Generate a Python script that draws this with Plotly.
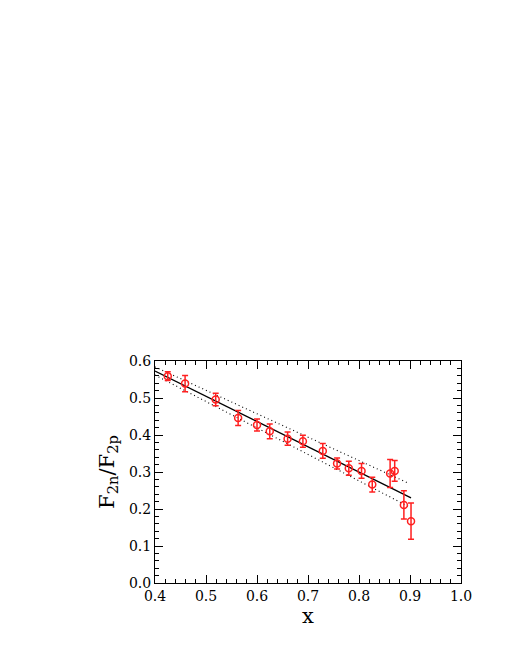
import plotly.graph_objects as go

# datos
x_datos = [0.425, 0.459, 0.519, 0.563, 0.600, 0.625, 0.660, 0.690, 0.729, 0.757,
           0.780, 0.805, 0.826, 0.861, 0.870, 0.888, 0.902]
y_datos = [0.559, 0.539, 0.496, 0.446, 0.427, 0.410, 0.390, 0.383, 0.357, 0.323,
           0.310, 0.303, 0.266, 0.296, 0.303, 0.211, 0.167]
err_datos = [0.012, 0.022, 0.017, 0.020, 0.016, 0.020, 0.018, 0.016, 0.020, 0.015,
             0.019, 0.020, 0.020, 0.038, 0.028, 0.038, 0.049]

# ajuste lineal y banda
x_ajuste = [0.40, 0.902]
y_ajuste = [0.573, 0.230]
x_banda = [0.40, 0.898]
y_banda_sup = [0.584, 0.269]
y_banda_inf = [0.562, 0.206]

FUENTE = "DejaVu Serif"
ROJO = "#ff2020"

fig = go.Figure()

fig.add_trace(go.Scatter(x=x_ajuste, y=y_ajuste, mode="lines",
                         line=dict(color="black", width=1.3), showlegend=False))
fig.add_trace(go.Scatter(x=x_banda, y=y_banda_sup, mode="lines",
                         line=dict(color="black", width=1.1, dash="1px,3px"), showlegend=False))
fig.add_trace(go.Scatter(x=x_banda, y=y_banda_inf, mode="lines",
                         line=dict(color="black", width=1.1, dash="1px,3px"), showlegend=False))

fig.add_trace(go.Scatter(
    x=x_datos, y=y_datos, mode="markers",
    marker=dict(symbol="circle-open", size=7, color=ROJO, line=dict(width=1.5)),
    error_y=dict(type="data", array=err_datos, color=ROJO, thickness=1.5, width=3),
    showlegend=False
))

eje = dict(
    showgrid=False, zeroline=False, showline=True, linecolor="black", linewidth=1,
    mirror="allticks", ticks="inside", ticklen=8, tickcolor="black",
    tickfont=dict(family=FUENTE, size=14, color="black"),
    tickformat=".1f", dtick=0.1,
)

fig.update_layout(
    width=512, height=663, autosize=False,
    plot_bgcolor="white", paper_bgcolor="white",
    margin=dict(l=147, r=59, t=353, b=88),
    xaxis=dict(eje, range=[0.4, 1.0],
               minor=dict(dtick=0.02, ticks="inside", ticklen=4, tickcolor="black"),
               title=dict(text="x", font=dict(family=FUENTE, size=21, color="black"),
                          standoff=2)),
    yaxis=dict(eje, range=[0.0, 0.6],
               minor=dict(dtick=0.02, ticks="inside", ticklen=4, tickcolor="black"),
               title=dict(text="F<sub>2n</sub>/F<sub>2p</sub>",
                          font=dict(family=FUENTE, size=21, color="black"),
                          standoff=8)),
)

fig.write_html("out.html")
